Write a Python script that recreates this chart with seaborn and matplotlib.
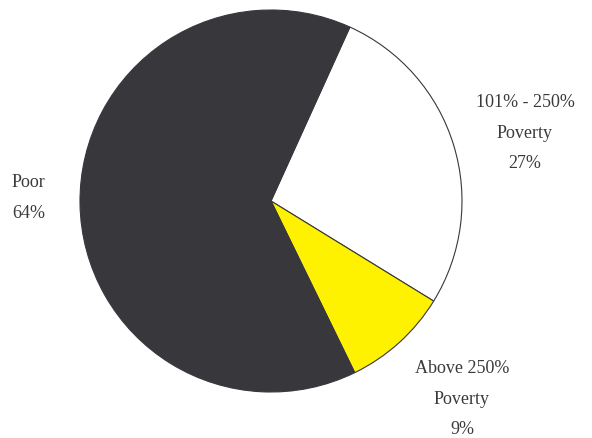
import matplotlib
matplotlib.use("Agg")
import matplotlib.pyplot as plt
import seaborn as sns

# Share of households by poverty level
categories = ["101% - 250%\nPoverty", "Above 250%\nPoverty", "Poor"]
shares = [27, 9, 64]
colors = ["#ffffff", "#fff200", "#38373c"]

sns.set_theme(style="white")
plt.rcParams["font.family"] = ["Liberation Serif", "DejaVu Serif"]

W, H = 592, 438
fig = plt.figure(figsize=(W / 100, H / 100), dpi=100)
ax = fig.add_axes([0, 0, 1, 1])

cx, cy, r = 271, 201, 191  # pie centre and radius in pixels


def to_data(px, py):
    return (px - cx) / r, (cy - py) / r


ax.pie(shares, colors=colors, startangle=65.6, counterclock=False,
       radius=1.0, center=(0, 0),
       wedgeprops=dict(edgecolor="#38373c", linewidth=0.8))

x0, y1 = to_data(0, 0)
x1, y0 = to_data(W, H)
ax.set_xlim(x0, x1)
ax.set_ylim(y0, y1)
ax.set_aspect("auto")
ax.axis("off")

txt = dict(color="#3a3a3a", fontsize=13, linespacing=2.05)

labels = [f"{c}\n{s}%" for c, s in zip(categories, shares)]
ax.text(*to_data(525, 133), labels[0], ha="center", va="center", **txt)
ax.text(*to_data(462, 399), labels[1], ha="center", va="center", **txt)
ax.text(*to_data(12, 198), f"{categories[2]}\n{shares[2]}%",
        ha="left", va="center", **txt)

fig.savefig("out.png", dpi=100)
